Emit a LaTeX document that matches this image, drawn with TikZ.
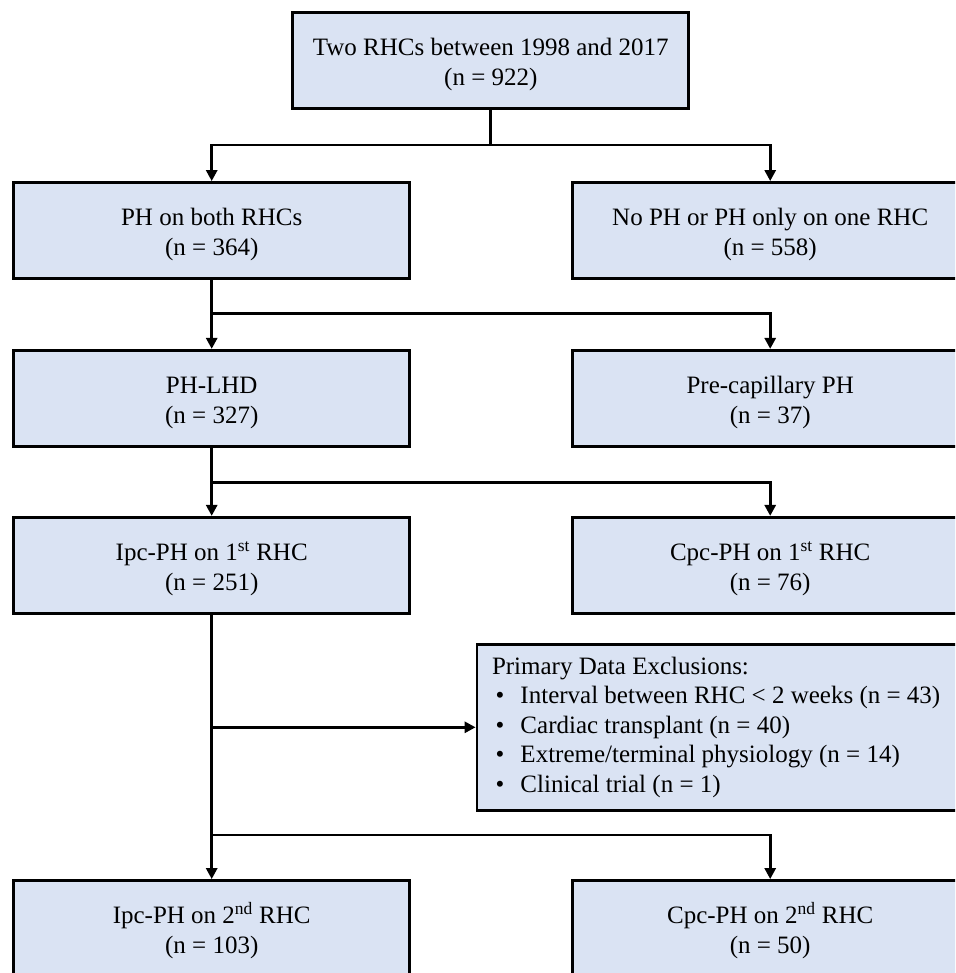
\documentclass[tikz,border=0pt]{standalone}
\usepackage{fontspec}
\setmainfont{Liberation Serif}
\usetikzlibrary{arrows.meta,positioning,calc}
\definecolor{boxfill}{RGB}{218,227,243}
\tikzset{
  flowbox/.style={draw=black, line width=2.8pt, fill=boxfill, minimum width=396pt, minimum height=96pt, inner sep=0pt, font=\fontsize{25}{30}\selectfont},
  exclbox/.style={flowbox, anchor=west, minimum height=166pt, minimum width=0pt, text width=482pt, inner xsep=15pt, align=left, font=\fontsize{25}{29.6}\selectfont},
  conn/.style={line width=2.8pt, line join=miter},
  arr/.style={conn, -{Triangle[width=11pt,length=11pt]}},
}
\newcommand{\bulletitem}{\hspace*{3.5pt}\makebox[25pt][l]{•}}
\newcommand{\twolines}[2]{\begin{tabular}{@{}c@{}}\rule{0pt}{29pt}#1\\#2\end{tabular}}
\begin{document}
\begin{tikzpicture}[x=1pt,y=-1pt]
\useasboundingbox (0,0) rectangle (955,973);
\fill[white] (0,0) rectangle (955,973);
\clip (0,0) rectangle (955,973);

\node[flowbox] (top) at (490.8,60.5) {\twolines{Two RHCs between 1998 and 2017}{(n = 922)}};

\node[flowbox] (b2l) at (211.7,230.5) {\twolines{PH on both RHCs}{(n = 364)}};
\node[flowbox] (b2r) at (770.2,230.5) {\twolines{No PH or PH only on one RHC}{(n = 558)}};

\node[flowbox] (b3l) at (211.7,398.3) {\twolines{PH-LHD}{(n = 327)}};
\node[flowbox] (b3r) at (770.2,398.3) {\twolines{Pre-capillary PH}{(n = 37)}};

\node[flowbox] (b4l) at (211.7,565.3) {\twolines{Ipc-PH on 1\textsuperscript{st} RHC}{(n = 251)}};
\node[flowbox] (b4r) at (770.2,565.3) {\twolines{Cpc-PH on 1\textsuperscript{st} RHC}{(n = 76)}};

\node[exclbox] (excl) at (475.6,727.3)
{\spaceskip=0pt\xspaceskip=0pt\relax
\begin{tabular}{@{}l@{}}
Primary Data Exclusions:\\
\bulletitem Interval between RHC < 2 weeks (n = 43)\\
\bulletitem Cardiac transplant (n = 40)\\
\bulletitem Extreme/terminal physiology (n = 14)\\
\bulletitem Clinical trial (n = 1)
\end{tabular}};

\node[flowbox] (b5l) at (211.7,928.5) {\twolines{Ipc-PH on 2\textsuperscript{nd} RHC}{(n = 103)}};
\node[flowbox] (b5r) at (770.2,928.5) {\twolines{Cpc-PH on 2\textsuperscript{nd} RHC}{(n = 50)}};

% junctions
\coordinate (j1) at (490.8,145);
\coordinate (j2) at (211.7,313.6);
\coordinate (j3) at (211.7,482.3);
\coordinate (j4) at (211.7,727.3);
\coordinate (j5) at (211.7,835);

\draw[conn] (top.south) -- (j1);
\draw[arr] (j1) -| (b2l.north);
\draw[arr] (j1) -| (b2r.north);

\draw[arr] (b2l.south) -- (b3l.north);
\draw[arr] (j2) -| (b3r.north);

\draw[arr] (b3l.south) -- (b4l.north);
\draw[arr] (j3) -| (b4r.north);

\draw[arr] (b4l.south) -- (b5l.north);
\draw[arr] (j4) -- (excl.west);
\draw[arr] (j5) -| (b5r.north);
\end{tikzpicture}
\end{document}
